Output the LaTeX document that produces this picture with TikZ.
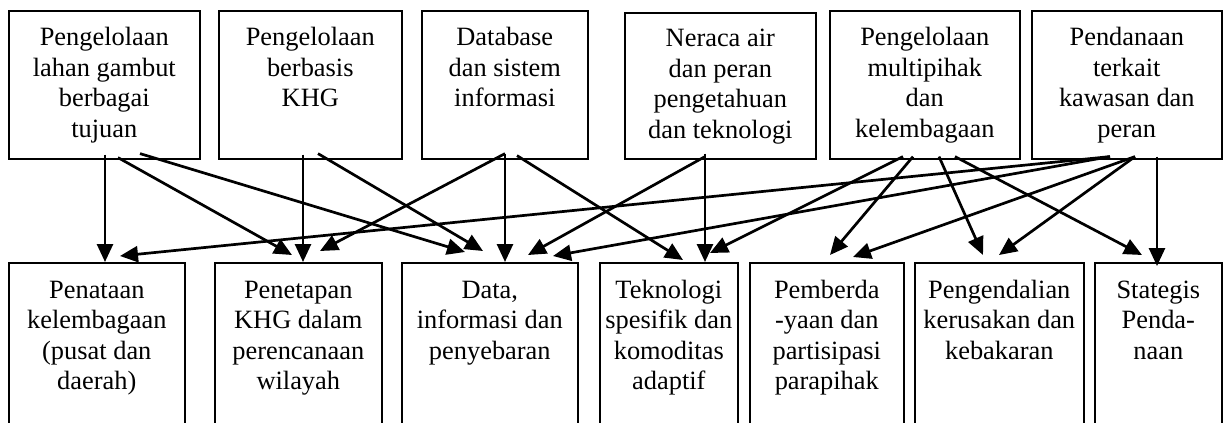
\documentclass[tikz,border=0pt]{standalone}
\usepackage{fontspec}
\setmainfont{Liberation Serif}
\usetikzlibrary{arrows.meta,calc}
\tikzset{
  box/.style={draw, line width=1.6pt, inner sep=0pt, anchor=north west},
  txt/.style={align=center, inner sep=0pt, anchor=north, font=\fontsize{26.4}{30.5}\selectfont},
  conn/.style={line width=2.7pt, -{Triangle[length=18pt,width=16pt]}}
}
\begin{document}
\begin{tikzpicture}[x=1pt,y=-1pt]
\useasboundingbox (0,0) rectangle (1224,423);
\clip (0,0) rectangle (1224,423);
% top boxes
\node[box, minimum width=191pt, minimum height=148pt] (t1) at (8,10) {};
\node[box, minimum width=183pt, minimum height=148pt] (t2) at (218,10) {};
\node[box, minimum width=166pt, minimum height=148pt] (t3) at (421,10) {};
\node[box, minimum width=191pt, minimum height=146pt] (t4) at (624,12) {};
\node[box, minimum width=190pt, minimum height=148pt] (t5) at (829,10) {};
\node[box, minimum width=190pt, minimum height=148pt] (t6) at (1031,10) {};
% bottom boxes
\node[box, minimum width=176pt, minimum height=190pt] (b1) at (8,262) {};
\node[box, minimum width=167pt, minimum height=190pt] (b2) at (214,262) {};
\node[box, minimum width=176pt, minimum height=190pt] (b3) at (401,262) {};
\node[box, minimum width=138pt, minimum height=190pt] (b4) at (599,262) {};
\node[box, minimum width=154pt, minimum height=190pt] (b5) at (749,262) {};
\node[box, minimum width=169pt, minimum height=190pt] (b6) at (914,262) {};
\node[box, minimum width=127pt, minimum height=190pt] (b7) at (1094,262) {};
% texts
\node[txt] (lt1) at ($(t1.north)+(0,14.3)$) {\strut Pengelolaan\\lahan gambut\\berbagai\\tujuan};
\node[txt] (lt2) at ($(t2.north)+(0,14.3)$) {\strut Pengelolaan\\berbasis\\KHG};
\node[txt] (lt3) at ($(t3.north)+(0,14.3)$) {\strut Database\\dan sistem\\informasi};
\node[txt] (lt4) at ($(t4.north)+(0,13.3)$) {\strut Neraca air\\dan peran\\pengetahuan\\dan teknologi};
\node[txt] (lt5) at ($(t5.north)+(0,14.3)$) {\strut Pengelolaan\\multipihak\\dan\\kelembagaan};
\node[txt] (lt6) at ($(t6.north)+(0,14.3)$) {\strut Pendanaan\\terkait\\kawasan dan\\peran};
\node[txt] (lb1) at ($(b1.north)+(0,14.6)$) {\strut Penataan\\kelembagaan\\(pusat dan\\daerah)};
\node[txt] (lb2) at ($(b2.north)+(0,14.6)$) {\strut Penetapan\\KHG dalam\\perencanaan\\wilayah};
\node[txt] (lb3) at ($(b3.north)+(0,14.6)$) {\strut Data,\\informasi dan\\penyebaran};
\node[txt] (lb4) at ($(b4.north)+(0,14.6)$) {\strut Teknologi\\spesifik dan\\komoditas\\adaptif};
\node[txt] (lb5) at ($(b5.north)+(0,14.6)$) {\strut Pemberda\\-yaan dan\\partisipasi\\parapihak};
\node[txt] (lb6) at ($(b6.north)+(0,14.6)$) {\strut Pengendalian\\kerusakan dan\\kebakaran};
\node[txt] (lb7) at ($(b7.north)+(0,14.6)$) {\strut Stategis\\Penda-\\naan};
% connectors
\draw[conn] ($(t1.south west)+(97,-5)$) -- ($(b1.north west)+(97,0)$);
\draw[conn] ($(t1.south west)+(110,-2)$) -- ($(b2.north west)+(78,-7)$);
\draw[conn] ($(t1.south west)+(132,-6)$) -- ($(b3.north west)+(64,-10)$);
\draw[conn] ($(t2.south west)+(85,-5)$) -- ($(b2.north west)+(89,0)$);
\draw[conn] ($(t2.south west)+(100,-6)$) -- ($(b3.north west)+(82,-11)$);
\draw[conn] ($(t3.south west)+(84,-6)$) -- ($(b2.north west)+(106,-11)$);
\draw[conn] ($(t3.south west)+(84,-6)$) -- ($(b3.north west)+(104,0)$);
\draw[conn] ($(t3.south west)+(96,-4)$) -- ($(b4.north west)+(84,-2)$);
\draw[conn] ($(t4.south west)+(81,-3)$) -- ($(b3.north west)+(127,-7)$);
\draw[conn] ($(t4.south west)+(81,-6)$) -- ($(b4.north west)+(106,0)$);
\draw[conn] ($(t5.south west)+(74,-3)$) -- ($(b4.north west)+(111,-9)$);
\draw[conn] ($(t5.south west)+(84,-3)$) -- ($(b5.north west)+(81,-7)$);
\draw[conn] ($(t5.south west)+(110,-3)$) -- ($(b6.north west)+(69,-7)$);
\draw[conn] ($(t5.south west)+(126,-3)$) -- ($(b7.north west)+(48,-7)$);
\draw[conn] ($(t6.south west)+(79,-3)$) -- ($(b1.north west)+(112,-6)$);
\draw[conn] ($(t6.south west)+(79,-3)$) -- ($(b3.north west)+(152,-6)$);
\draw[conn] ($(t6.south west)+(104,-3)$) -- ($(b5.north west)+(104,-5)$);
\draw[conn] ($(t6.south west)+(104,-3)$) -- ($(b6.north west)+(85,-7)$);
\draw[conn] ($(t6.south west)+(126,-3)$) -- ($(b7.north west)+(63,4)$);
\end{tikzpicture}
\end{document}
